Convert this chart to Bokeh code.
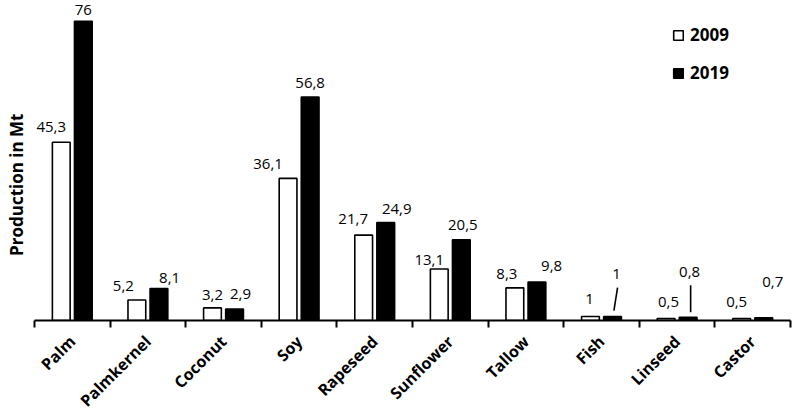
import math
from bokeh.plotting import figure
from bokeh.models import (ColumnDataSource, Range1d, FixedTicker, CustomJSTickFormatter,
                          Title, Legend, LegendItem)
from bokeh.transform import dodge
from bokeh.core.properties import value
from bokeh.embed import file_html
from bokeh.resources import INLINE

# ---------------- data ----------------
CATEGORIES = ["Palm", "Palmkernel", "Coconut", "Soy", "Rapeseed",
              "Sunflower", "Tallow", "Fish", "Linseed", "Castor"]
PROD_2009 = [45.3, 5.2, 3.2, 36.1, 21.7, 13.1, 8.3, 1.0, 0.5, 0.5]
PROD_2019 = [76.0, 8.1, 2.9, 56.8, 24.9, 20.5, 9.8, 1.0, 0.8, 0.7]
SERIES = ["2009", "2019"]
Y_TITLE = "Production in Mt"

# ---------------- layout / style ----------------
FONT = "Open Sans"
FRAME_W = 756
FRAME_H = 320
Y_MAX = 81.3
PX_PER_CAT = FRAME_W / len(CATEGORIES)
PX_PER_UNIT = FRAME_H / Y_MAX
BAR_W = 0.235
DODGE = 0.146

# label placement tweaks (pixels: horizontal shift, height of text centre above bar top)
LBL_DX_2009 = [-10, -13.5, 0, -20, -10.5, -10, -8, -1, 2.4, -5]
LBL_UP_2009 = [15, 14.5, 13.4, 14, 15.6, 8.5, 13.8, 18, 16.5, 16.5]
LBL_DX_2019 = [0, 10.7, 6, 0, 11, 1.5, 14.7, 4, 1.5, 9]
LBL_UP_2019 = [11, 10.5, 14.6, 13.5, 13, 14.4, 16, 43, 45, 36]
# leader lines for 2019 labels: category, dx0, up0, dx1, up1 (pixels)
LEADERS = [("Fish", 1.4, 6, 5, 29), ("Linseed", 2.5, 5, 2.5, 32)]


def fmt(v):
    return f"{v:g}".replace(".", ",")


xc = [i + 0.5 for i in range(len(CATEGORIES))]
src = ColumnDataSource(dict(x=xc, cat=CATEGORIES, v2009=PROD_2009, v2019=PROD_2019))

p = figure(frame_width=FRAME_W, frame_height=FRAME_H,
           x_range=Range1d(0, len(CATEGORIES)), y_range=Range1d(0, Y_MAX),
           output_backend="svg", toolbar_location=None,
           min_border_left=33, min_border_right=5, min_border_top=0, min_border_bottom=0)
p.outline_line_color = None
p.xgrid.visible = False
p.ygrid.visible = False
p.yaxis.visible = False

r09 = p.vbar(x=dodge("x", -DODGE), top="v2009", width=BAR_W, source=src,
             fill_color="white", line_color="black", line_width=1.6)
r19 = p.vbar(x=dodge("x", DODGE), top="v2019", width=BAR_W, source=src,
             fill_color="black", line_color="black", line_width=1.6)

# data labels
lab = dict(
    x=[c - DODGE for c in xc] + [c + DODGE for c in xc],
    y=PROD_2009 + PROD_2019,
    text=[fmt(v) for v in PROD_2009 + PROD_2019],
    dx=LBL_DX_2009 + LBL_DX_2019,
    dy=[-u for u in LBL_UP_2009 + LBL_UP_2019],
)
p.text(x="x", y="y", text="text", x_offset="dx", y_offset="dy",
       source=ColumnDataSource(lab), text_align="center", text_baseline="middle",
       text_font=value(FONT), text_font_size="15px", text_color="black")

# leader lines
lx0, ly0, lx1, ly1 = [], [], [], []
for cat, dx0, up0, dx1, up1 in LEADERS:
    i = CATEGORIES.index(cat)
    base_x = xc[i] + DODGE
    v = PROD_2019[i]
    lx0.append(base_x + dx0 / PX_PER_CAT)
    ly0.append(v + up0 / PX_PER_UNIT)
    lx1.append(base_x + dx1 / PX_PER_CAT)
    ly1.append(v + up1 / PX_PER_UNIT)
p.segment(x0=lx0, y0=ly0, x1=lx1, y1=ly1, line_color="black", line_width=1.6)

# x axis: labels at category centres, tick marks at boundaries
ax = p.xaxis[0]
ax.ticker = FixedTicker(ticks=xc, minor_ticks=list(range(len(CATEGORIES) + 1)))
ax.formatter = CustomJSTickFormatter(args=dict(names=CATEGORIES),
                                     code="return names[Math.floor(tick)] || '';")
ax.major_tick_in = 0
ax.major_tick_out = 0
ax.minor_tick_in = 0
ax.minor_tick_out = 7
ax.minor_tick_line_width = 2
ax.minor_tick_line_color = "black"
ax.axis_line_width = 2
ax.axis_line_color = "black"
ax.major_label_orientation = math.pi / 4
ax.major_label_standoff = 11
ax.major_label_text_font = FONT
ax.major_label_text_font_style = "bold"
ax.major_label_text_font_size = "16px"
ax.major_label_text_color = "black"

# y axis title (side title so it can be positioned along the axis)
ytitle = Title(text=Y_TITLE, align="right", offset=113, vertical_align="top", standoff=9,
               text_font=FONT, text_font_style="bold", text_font_size="17px",
               text_color="black")
p.add_layout(ytitle, "left")

legend = Legend(items=[LegendItem(label=SERIES[0], renderers=[r09]),
                       LegendItem(label=SERIES[1], renderers=[r19])],
                location=(638, 236))
legend.border_line_color = None
legend.background_fill_alpha = 0
legend.padding = 0
legend.margin = 0
legend.spacing = 15
legend.glyph_width = 12
legend.glyph_height = 12
legend.label_height = 20
legend.label_standoff = 6
legend.label_text_font = FONT
legend.label_text_font_style = "bold"
legend.label_text_font_size = "17px"
legend.label_text_color = "black"
p.add_layout(legend)

open("out.html", "w").write(file_html(p, INLINE))
